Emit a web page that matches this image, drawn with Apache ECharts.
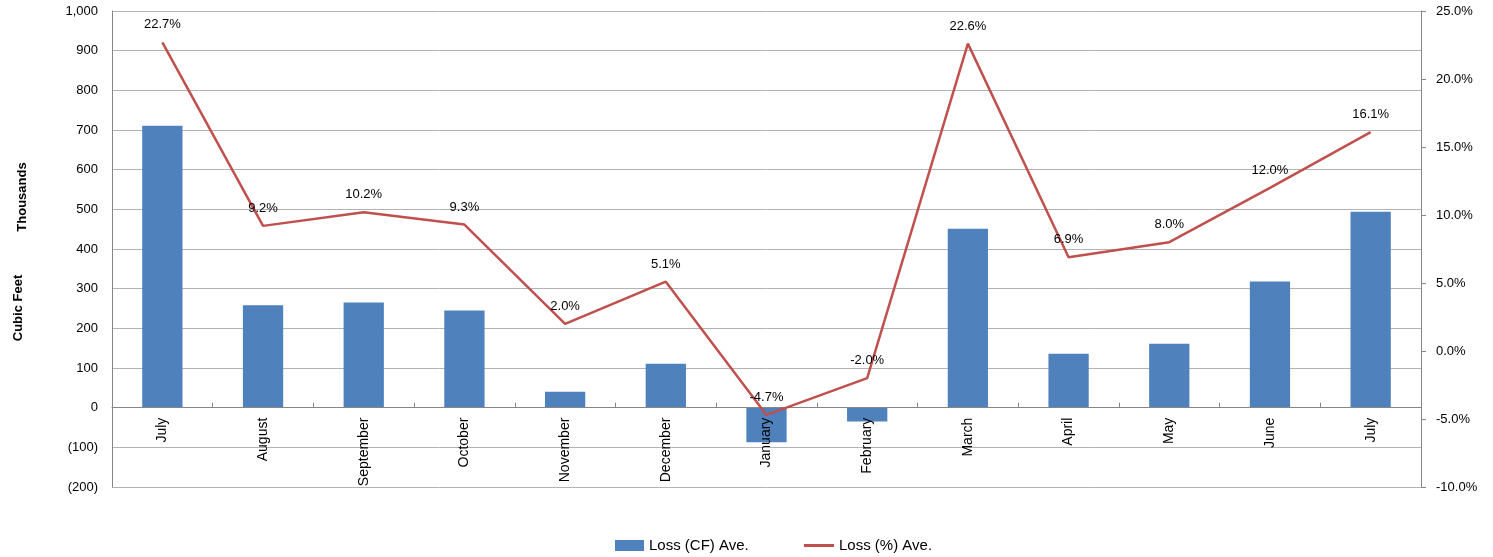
<!DOCTYPE html>
<html><head><meta charset="utf-8">
<script src="https://cdn.jsdelivr.net/npm/echarts@6/dist/echarts.min.js"></script>
<style>html,body{margin:0;padding:0;background:#fff}#c{width:1493px;height:557px}</style>
</head><body><div id="c"></div>
<script>
const categories = ['July','August','September','October','November','December','January','February','March','April','May','June','July'];
const lossCF = [711, 258, 265, 245, 40, 111, -87, -35, 451, 136, 161, 318, 494];
const lossPct = [22.7, 9.2, 10.2, 9.3, 2.0, 5.1, -4.7, -2.0, 22.6, 6.9, 8.0, 12.0, 16.1];
const leftTicks = {min: -200, max: 1000, interval: 100};
const rightTicks = {min: -10, max: 25, interval: 5};

const FONT = 'Liberation Sans';
const W = 1493, H = 557;
const gridTop = 11, gridBottom = 70;
const plotH = H - gridTop - gridBottom;
// move category axis to the zero line of the left value axis
const zeroOffset = -plotH * (0 - leftTicks.min) / (leftTicks.max - leftTicks.min);

const chart = echarts.init(document.getElementById('c'));
chart.setOption({
  animation: false,
  textStyle: {fontFamily: FONT, color: '#000'},
  grid: {left: 112, right: 72, top: gridTop, bottom: gridBottom, containLabel: false, outerBoundsMode: 'none'},
  legend: [
    {left: 610, top: 533, itemWidth: 29, itemHeight: 11, itemGap: 4,
     textStyle: {fontSize: 15, color: '#000', fontFamily: FONT},
     data: [{name: 'Loss (CF) Ave.', icon: 'rect'}]},
    {left: 799, top: 533, itemWidth: 30, itemHeight: 3,
     textStyle: {fontSize: 15, color: '#000', fontFamily: FONT},
     data: [{name: 'Loss (%) Ave.', icon: 'rect'}]}
  ],
  graphic: [
    {type: 'text', rotation: Math.PI/2, x: 22, y: 197, style: {text: 'Thousands', font: 'bold 13px ' + FONT, fill: '#000', align: 'center', verticalAlign: 'middle'}},
    {type: 'text', rotation: Math.PI/2, x: 18, y: 308, style: {text: 'Cubic Feet', font: 'bold 13px ' + FONT, fill: '#000', align: 'center', verticalAlign: 'middle'}}
  ],
  xAxis: {
    type: 'category', data: categories, position: 'bottom', offset: zeroOffset, z: 5,
    axisLine: {onZero: false, lineStyle: {color: '#868686', width: 1}},
    axisTick: {show: true, inside: true, length: 5, lineStyle: {color: '#868686'}},
    axisLabel: {rotate: 90, fontSize: 14, color: '#000', margin: 10, interval: 0}
  },
  yAxis: [
    {type: 'value', min: leftTicks.min, max: leftTicks.max, interval: leftTicks.interval,
     axisLine: {show: true, lineStyle: {color: '#868686'}},
     axisTick: {show: false},
     splitLine: {show: true, lineStyle: {color: '#b3b3b3', width: 1}},
     axisLabel: {fontSize: 13, color: '#000', margin: 14,
       formatter: v => { const s = Math.abs(v).toLocaleString('en-US'); return v < 0 ? '(' + s + ')' : s; }}},
    {type: 'value', min: rightTicks.min, max: rightTicks.max, interval: rightTicks.interval, position: 'right',
     axisLine: {show: true, lineStyle: {color: '#868686'}},
     axisTick: {show: true, length: 5, lineStyle: {color: '#868686'}},
     splitLine: {show: false},
     axisLabel: {fontSize: 13, color: '#000', margin: 15, formatter: v => v.toFixed(1) + '%'}}
  ],
  series: [
    {name: 'Loss (CF) Ave.', type: 'bar', data: lossCF, barWidth: '40%', yAxisIndex: 0,
     itemStyle: {color: '#4F81BD'}},
    {name: 'Loss (%) Ave.', type: 'line', data: lossPct, yAxisIndex: 1, symbol: 'circle', symbolSize: 0.01, showSymbol: true, z: 6,
     lineStyle: {color: '#C0504D', width: 2.5}, itemStyle: {color: '#C0504D'},
     label: {show: true, position: 'top', distance: 11, fontSize: 13, color: '#000', formatter: p => p.value.toFixed(1) + '%'}}
  ]
});
</script></body></html>
